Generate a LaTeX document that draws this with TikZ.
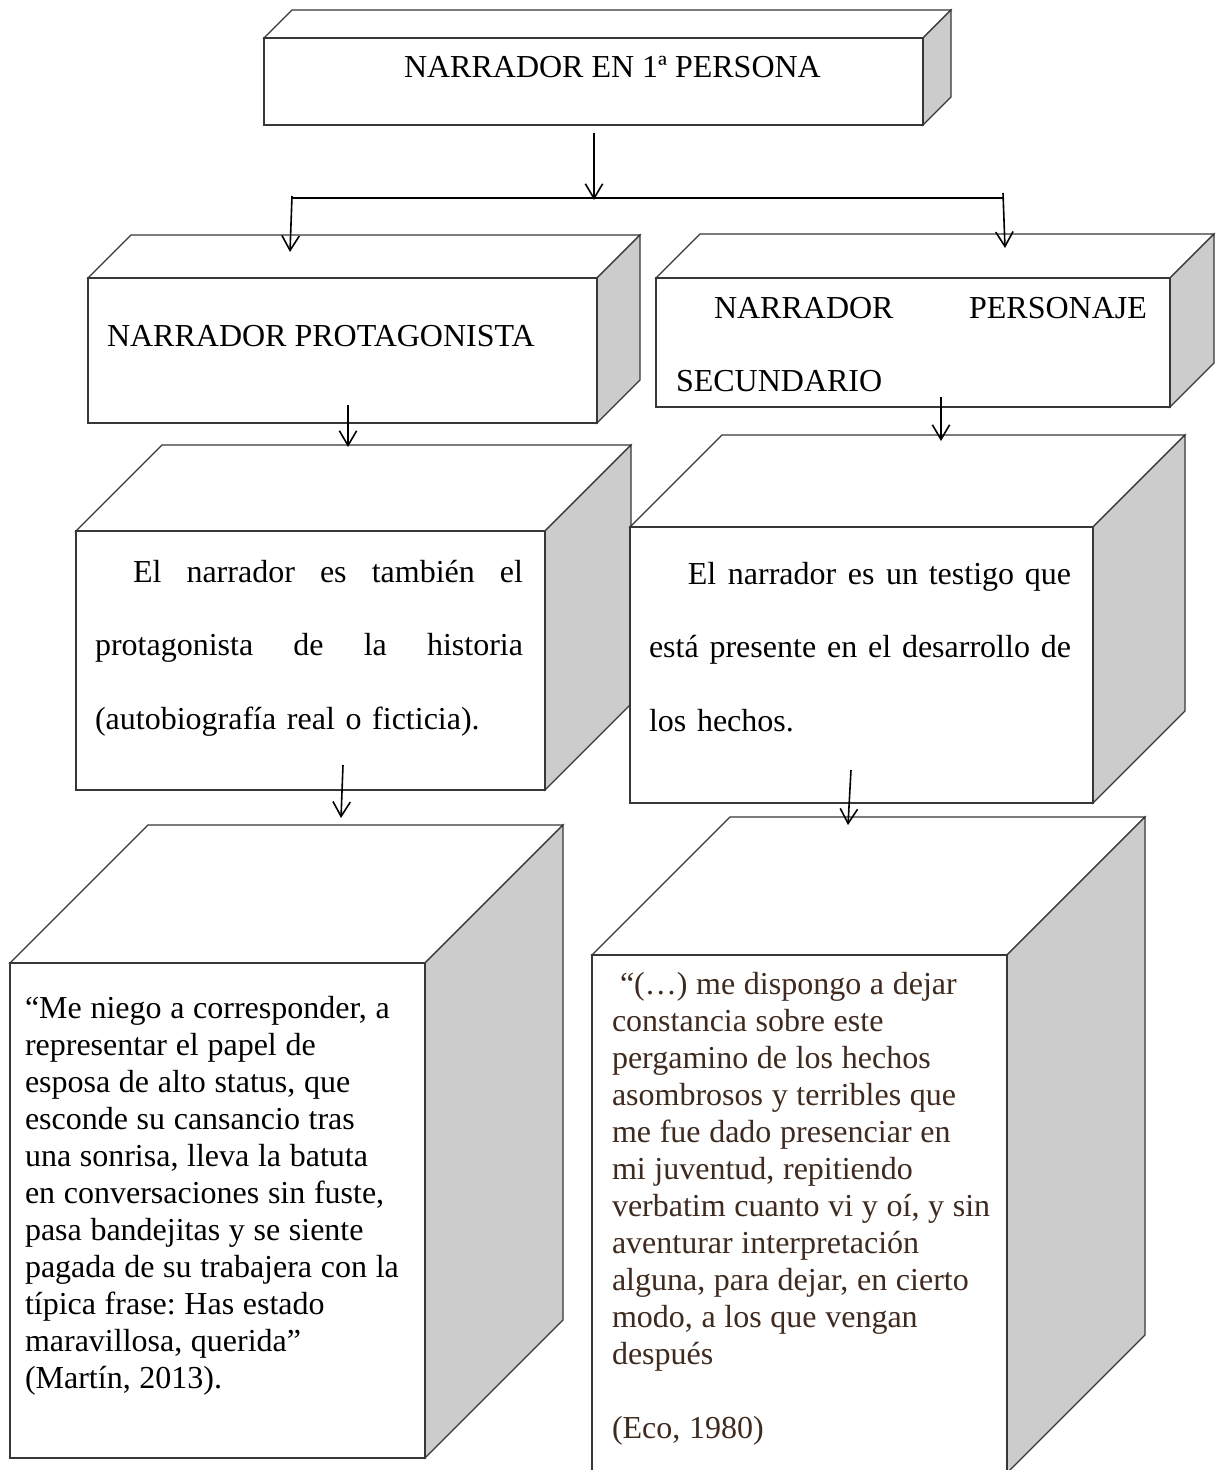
\documentclass[tikz,border=0pt]{standalone}
\usepackage{fontspec}
\setmainfont{Liberation Serif}
\usetikzlibrary{arrows.meta}
\definecolor{quotebrown}{RGB}{62,42,30}
\definecolor{sidegray}{RGB}{204,204,204}
\definecolor{edgegray}{RGB}{55,55,55}
\newcommand\topstrut{\rule{0pt}{9pt}}
\newcommand\tightspace{\frenchspacing\spaceskip=3.25pt plus 1pt minus 0.5pt\relax}
% #1 name, #2 x1, #3 y1, #4 x2, #5 y2, #6 depth (pixel units, y downward)
\newcommand\cubeshape[6]{%
  \filldraw[cubeline,fill=white] (#2,#3) -- ({#2+#6},{#3-#6}) -- ({#4+#6},{#3-#6}) -- (#4,#3) -- cycle;
  \filldraw[cubeline,fill=sidegray] (#4,#3) -- ({#4+#6},{#3-#6}) -- ({#4+#6},{#5-#6}) -- (#4,#5) -- cycle;
  \node[frontface,minimum width={(#4-#2)*0.375pt},minimum height={(#5-#3)*0.375pt}] (#1) at ({(#2+#4)/2},{(#3+#5)/2}) {};
}
\begin{document}
\begin{tikzpicture}[x=0.375pt,y=-0.375pt,
  cubeline/.style={draw=edgegray,line width=0.45pt,line join=miter},
  frontface/.style={cubeline,fill=white,inner sep=0pt,outer sep=0pt},
  arr/.style={draw=black,line width=0.6pt,-{Straight Barb[length=5.5pt,width=6.5pt]}},
  branch/.style={draw=black,line width=0.8pt},
  txt/.style={inner sep=0pt,outer sep=0pt,font=\fontsize{12}{13.875}\selectfont},
  dbl/.style={txt,anchor=north west,align=left,font=\fontsize{12}{27.6}\selectfont},
  quotetxt/.style={txt,anchor=north west,align=left,text width=150pt}]
\useasboundingbox (0,0) rectangle (1217,1470);
\clip (0,0) rectangle (1217,1470);
\fill[white] (0,0) rectangle (1217,1470);

% boxes
\cubeshape{top}{264}{38}{923}{125}{28}
\cubeshape{prot}{88}{278}{597}{423}{43}
\cubeshape{sec}{656}{278}{1170}{407}{44}
\cubeshape{protdesc}{76}{531}{545}{790}{86}
\cubeshape{secdesc}{630}{527}{1093}{803}{92}
\cubeshape{protquote}{10}{963}{425}{1458}{138}
\cubeshape{secquote}{592}{955}{1007}{1473}{138}

% texts
\node[txt,anchor=base west] (ttop) at (404,78) {NARRADOR EN 1ª PERSONA};
\node[txt,anchor=base west] (tprot) at (107,346) {NARRADOR PROTAGONISTA};
\node[dbl,text width=176.6pt,font=\fontsize{12}{27.4}\selectfont] (tsec) at (676,294)
  {\topstrut\hspace*{14.25pt}NARRADOR\hfill PERSONAJE\\SECUNDARIO};
\node[dbl,text width=160.5pt] (tprotdesc) at (95,558)
  {\topstrut\hspace*{14.25pt}El\hfill narrador\hfill es\hfill también\hfill el\\
   protagonista\hfill de\hfill la\hfill historia\\
   (autobiografía real o ficticia).};
\node[dbl,text width=158.25pt] (tsecdesc) at (649,560)
  {\topstrut\hspace*{14.6pt}El\hfill narrador\hfill es\hfill un testigo que\\
   está\hfill presente\hfill en\hfill el\hfill desarrollo\hfill de\\
   los hechos.};
\node[quotetxt] (tprotquote) at (25,994)
  {\tightspace\topstrut“Me niego a corresponder, a\\
   representar el papel de\\
   esposa de alto status, que\\
   esconde su cansancio tras\\
   una sonrisa, lleva la batuta\\
   en conversaciones sin fuste,\\
   pasa bandejitas y se siente\\
   pagada de su trabajera con la\\
   típica frase: Has estado\\
   maravillosa, querida”\\
   (Martín, 2013).};
\node[quotetxt,text=quotebrown] (tsecquote) at (612,970)
  {\tightspace\topstrut\hspace{3pt}“(…) me dispongo a dejar\\
   constancia sobre este\\
   pergamino de los hechos\\
   asombrosos y terribles que\\
   me fue dado presenciar en\\
   mi juventud, repitiendo\\
   verbatim cuanto vi y oí, y sin\\
   aventurar interpretación\\
   alguna, para dejar, en cierto\\
   modo, a los que vengan\\
   después\\[13.875pt]
   (Eco, 1980)};

% connector points
\coordinate (a0s) at (594,133);
\coordinate (a0e) at (594,200);
\coordinate (brL) at (292,198);
\coordinate (brR) at (1003,198);
\coordinate (aLs) at (292,196);
\coordinate (aLe) at (290,252);
\coordinate (aRs) at (1003,193);
\coordinate (aRe) at (1005,248);
\coordinate (a2s) at (348,405);
\coordinate (a2e) at (348,447);
\coordinate (a3s) at (941,397);
\coordinate (a3e) at (941,441);
\coordinate (a4s) at (343,765);
\coordinate (a4e) at (341,818);
\coordinate (a6s) at (851,770);
\coordinate (a6e) at (848,825);

\draw[branch] (brL) -- (brR);
\draw[arr] (a0s) -- (a0e);
\draw[arr] (aLs) -- (aLe);
\draw[arr] (aRs) -- (aRe);
\draw[arr] (a2s) -- (a2e);
\draw[arr] (a3s) -- (a3e);
\draw[arr] (a4s) -- (a4e);
\draw[arr] (a6s) -- (a6e);
\end{tikzpicture}
\end{document}
